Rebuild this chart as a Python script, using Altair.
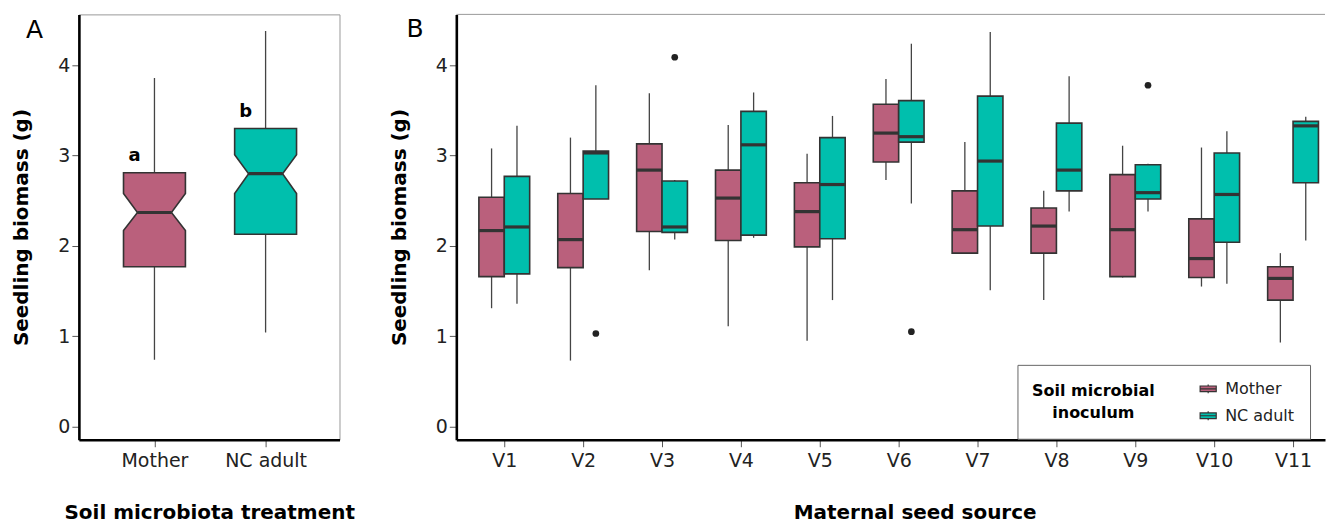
import altair as alt
import pandas as pd

FONT = "DejaVu Sans"
C_MOTHER = "#BA607C"
C_NC = "#00BFAD"
EDGE = "#333333"

# ---------------- Panel A data ----------------
treatment = ["Mother", "NC adult"]
a_low = [0.74, 1.04]
a_q1 = [1.77, 2.13]
a_notch_lo = [2.17, 2.58]
a_median = [2.37, 2.80]
a_notch_hi = [2.58, 3.01]
a_q3 = [2.81, 3.30]
a_high = [3.86, 4.38]
a_letters = ["a", "b"]

# ---------------- Panel B data ----------------
sources = ["V1", "V2", "V3", "V4", "V5", "V6", "V7", "V8", "V9", "V10", "V11"]
m_low = [1.31, 0.73, 1.73, 1.11, 0.95, 2.73, 1.92, 1.40, 1.65, 1.55, 0.93]
m_q1 = [1.66, 1.76, 2.16, 2.06, 1.99, 2.93, 1.92, 1.92, 1.66, 1.65, 1.40]
m_med = [2.17, 2.07, 2.84, 2.53, 2.38, 3.25, 2.18, 2.22, 2.18, 1.86, 1.64]
m_q3 = [2.54, 2.58, 3.13, 2.84, 2.70, 3.57, 2.61, 2.42, 2.79, 2.30, 1.77]
m_high = [3.08, 3.20, 3.69, 3.34, 3.02, 3.85, 3.15, 2.61, 3.11, 3.09, 1.92]
n_low = [1.36, 2.52, 2.07, 2.09, 1.40, 2.47, 1.51, 2.38, 2.38, 1.58, 2.06]
n_q1 = [1.69, 2.52, 2.15, 2.12, 2.08, 3.15, 2.22, 2.61, 2.52, 2.04, 2.70]
n_med = [2.21, 3.03, 2.21, 3.12, 2.68, 3.21, 2.94, 2.84, 2.59, 2.57, 3.33]
n_q3 = [2.77, 3.05, 2.72, 3.49, 3.20, 3.61, 3.66, 3.36, 2.90, 3.03, 3.38]
n_high = [3.33, 3.78, 2.73, 3.70, 3.44, 4.24, 4.37, 3.88, 2.91, 3.27, 3.43]
out_source = ["V2", "V3", "V6", "V9"]
out_group = ["NC adult", "NC adult", "NC adult", "NC adult"]
out_value = [1.03, 4.09, 1.05, 3.78]

groups = ["Mother", "NC adult"]
color_scale = alt.Scale(domain=groups, range=[C_MOTHER, C_NC])
y_scale = alt.Scale(domain=[-0.147, 4.565], nice=False, zero=False)

# ---------------- Panel A ----------------
A_W, A_H = 261, 426
BOX_HALF = 0.2785
NOTCH_HALF = 0.153

a_df = pd.DataFrame({
    "group": treatment, "pos": [1, 2], "low": a_low, "q1": a_q1,
    "med": a_median, "q3": a_q3, "high": a_high, "letter": a_letters,
})
a_df["ml"] = a_df["pos"] - NOTCH_HALF
a_df["mr"] = a_df["pos"] + NOTCH_HALF

# notched box drawn as two halves (lower and upper), each a vertical area
poly_rows = []
for i, g in enumerate(treatment):
    p = i + 1
    xs = [p - BOX_HALF, p - NOTCH_HALF, p + NOTCH_HALF, p + BOX_HALF]
    lower_top = [a_notch_lo[i], a_median[i], a_median[i], a_notch_lo[i]]
    upper_bot = [a_notch_hi[i], a_median[i], a_median[i], a_notch_hi[i]]
    for x, t in zip(xs, lower_top):
        poly_rows.append({"group": g, "part": g + "-lo", "x": x, "y1": a_q1[i], "y2": t})
    for x, b in zip(xs, upper_bot):
        poly_rows.append({"group": g, "part": g + "-hi", "x": x, "y1": b, "y2": a_q3[i]})
poly_df = pd.DataFrame(poly_rows)

label_expr_a = "datum.value == 1 ? '%s' : (datum.value == 2 ? '%s' : '')" % (treatment[0], treatment[1])
xA = alt.X("pos:Q", scale=alt.Scale(domain=[0.32, 2.665], nice=False, zero=False),
           axis=alt.Axis(values=[1, 2], labelExpr=label_expr_a, title="Soil microbiota treatment",
                         titlePadding=32, labelPadding=5))
yA = alt.Y("low:Q", scale=y_scale,
           axis=alt.Axis(values=[0, 1, 2, 3, 4], format="d", title="Seedling biomass (g)", titlePadding=26))

whisk_a = alt.Chart(a_df).mark_rule(color="#444", strokeWidth=1.3).encode(
    x=xA, y=yA, y2="high:Q")
box_a = alt.Chart(poly_df).mark_area(stroke=EDGE, strokeWidth=1.6, opacity=1, strokeJoin="miter").encode(
    x=alt.X("x:Q"),
    y=alt.Y("y1:Q", scale=y_scale), y2="y2:Q",
    fill=alt.Fill("group:N", scale=color_scale, legend=None),
    detail="part:N",
)
med_a = alt.Chart(a_df).mark_rule(color=EDGE, strokeWidth=3.2).encode(
    x="ml:Q", x2="mr:Q", y=alt.Y("med:Q"))
let_a = alt.Chart(a_df).mark_text(font=FONT, fontSize=18, fontWeight="bold", dx=-20, dy=-12,
                                  baseline="alphabetic", align="center", color="black").encode(
    x="pos:Q", y=alt.Y("q3:Q"), text="letter:N")
tag_a = alt.Chart(a_df.head(1)).mark_text(font=FONT, fontSize=25, align="left", baseline="alphabetic",
                                          color="black").encode(
    x=alt.value(-53), y=alt.value(24), text=alt.value("A"))

panelA = alt.layer(whisk_a, box_a, med_a, let_a, tag_a).properties(
    width=A_W, height=A_H, view=alt.ViewBackground(stroke="#999", strokeWidth=1))

# ---------------- Panel B ----------------
B_W, B_H = 870, 426
OFF = 0.161
HALF = 0.161

rows = []
for i, s in enumerate(sources):
    p = i + 1
    rows.append({"src": s, "group": "Mother", "c": p - OFF, "low": m_low[i], "q1": m_q1[i],
                 "med": m_med[i], "q3": m_q3[i], "high": m_high[i]})
    rows.append({"src": s, "group": "NC adult", "c": p + OFF, "low": n_low[i], "q1": n_q1[i],
                 "med": n_med[i], "q3": n_q3[i], "high": n_high[i]})
b_df = pd.DataFrame(rows)
b_df["l"] = b_df["c"] - HALF
b_df["r"] = b_df["c"] + HALF

o_df = pd.DataFrame({"src": out_source, "group": out_group, "v": out_value})
o_df["c"] = [sources.index(s) + 1 + (OFF if g == "NC adult" else -OFF) for s, g in zip(out_source, out_group)]

label_expr_b = "'V' + datum.value"
xB = alt.X("c:Q", scale=alt.Scale(domain=[0.392, 11.405], nice=False, zero=False),
           axis=alt.Axis(values=list(range(1, 12)), labelExpr=label_expr_b, title="Maternal seed source",
                         titlePadding=32, labelPadding=5, titleX=459))
yB = alt.Y("low:Q", scale=y_scale,
           axis=alt.Axis(values=[0, 1, 2, 3, 4], format="d", title="Seedling biomass (g)", titlePadding=26))

whisk_b = alt.Chart(b_df).mark_rule(color="#444", strokeWidth=1.3).encode(x=xB, y=yB, y2="high:Q")
legend_path = "M-1,-0.35H1V0.35H-1Z M-1,0H1 M0,-0.35V-0.55 M0,0.35V0.55"
box_b = alt.Chart(b_df).mark_rect(stroke=EDGE, strokeWidth=1.6).encode(
    x="l:Q", x2="r:Q", y=alt.Y("q1:Q"), y2="q3:Q",
    fill=alt.Fill("group:N", scale=color_scale,
                  legend=alt.Legend(
                      title=["Soil microbial", "inoculum"], orient="none", legendX=562, legendY=351,
                      direction="vertical", titleOrient="left", titleAnchor="middle", titleAlign="center",
                      titleFont=FONT, titleFontSize=16, titleFontWeight="bold", titleLineHeight=22,
                      titleColor="black", titlePadding=-17,
                      labelFont=FONT, labelFontSize=16, labelColor="#222", labelOffset=8,
                      symbolType=legend_path, symbolSize=260, symbolStrokeColor=EDGE,
                      symbolStrokeWidth=1.2, symbolOpacity=1, rowPadding=10, padding=15,
                      strokeColor="#666", fillColor="white")),
)
med_b = alt.Chart(b_df).mark_rule(color=EDGE, strokeWidth=3.2).encode(x="l:Q", x2="r:Q", y=alt.Y("med:Q"))
pts_b = alt.Chart(o_df).mark_circle(color="#222", size=45, opacity=1).encode(x="c:Q", y=alt.Y("v:Q"))
top_b = alt.Chart(o_df.head(1)).mark_rule(color="#999", strokeWidth=1).encode(
    x=alt.value(0), x2=alt.value(B_W), y=alt.value(0))
tag_b = alt.Chart(o_df.head(1)).mark_text(font=FONT, fontSize=25, align="left", baseline="alphabetic",
                                          color="black").encode(
    x=alt.value(-50), y=alt.value(23), text=alt.value("B"))

panelB = alt.layer(whisk_b, box_b, med_b, pts_b, top_b, tag_b).properties(
    width=B_W, height=B_H, view=alt.ViewBackground(stroke=None))

chart = alt.hconcat(panelA, panelB, spacing=117, bounds="flush").resolve_scale(
    fill="independent"
).resolve_legend(fill="independent").properties(
    padding={"left": 3, "top": 5, "right": 0, "bottom": 0}
).configure_axis(
    grid=False, domainColor="black", domainWidth=2.6, tickColor="#555", tickSize=7, tickWidth=1,
    labelFont=FONT, labelFontSize=19, labelColor="#222", titleFont=FONT, titleFontSize=20,
    titleFontWeight="bold", titleColor="black",
).configure_axisX(labelAngle=0)

chart.save("out.html", embed_options={"renderer": "svg", "actions": False})
